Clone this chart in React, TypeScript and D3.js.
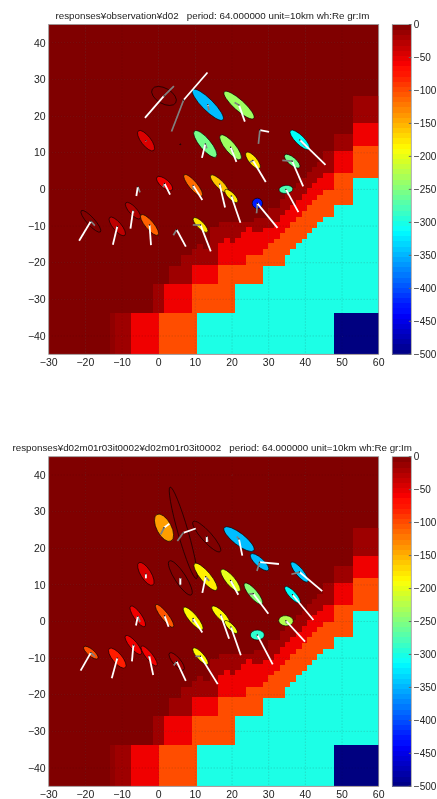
import React, { useEffect, useRef } from "react";
import * as d3 from "d3";

// colour stops of the jet colormap, by depth value
const jetDepths = [-500, -437.5, -312.5, -250, -187.5, -62.5, 0];
const jetColors = ["#000080", "#0000ff", "#00ffff", "#80ff80", "#ffff00", "#ff0000", "#800000"];

const xTicks = [-30, -20, -10, 0, 10, 20, 30, 40, 50, 60];
const yTicks = [-40, -30, -20, -10, 0, 10, 20, 30, 40];
const barTicks = [0, -50, -100, -150, -200, -250, -300, -350, -400, -450, -500];

// mesh drawn as nested step areas: depth of layer, x where a step starts, top y of that step
const layer8 = { depth: -8, xs: [-13.3], tops: [-33.8] };
const layer15 = {
  depth: -15,
  xs: [-11.9, -1.45, 2.9, 6.1, 9, 10.4, 12.2, 14, 16.5, 26, 29.9, 33.1, 34.5, 35.8, 37.5, 39, 40.4, 41.9, 43.3, 44.9, 47.8, 52.9],
  tops: [-33.8, -25.9, -20.9, -17.9, -16.3, -14.9, -16.3, -10.2, -8.8, -7.9, -5, -2.7, -1.1, 0.3, 1.65, 3, 4.8, 6.2, 7.5, 10.5, 15.1, 25.5],
};
const layer50 = {
  depth: -55,
  xs: [-7.5, 1.36, 9, 16.3, 17.9, 19.4, 20.8, 22.4, 23.8, 25.4, 28.4, 31.5, 33.1, 34.5, 35.8, 37.5, 39, 40.4, 41.9, 43.3, 44.9, 47.8, 52.9],
  tops: [-33.8, -25.9, -20.6, -14.7, -13.3, -14.7, -13.3, -11.7, -10.2, -11.7, -10.6, -8.8, -7, -5.6, -4.3, -2.9, -1.26, 0.3, 1.65, 3, 4.56, 10.5, 18],
};
const layer100 = {
  depth: -100,
  xs: [0, 9, 16.3, 23.8, 28.4, 29.9, 31.5, 33.1, 34.5, 35.8, 37.5, 39, 40.4, 41.9, 43.3, 44.9, 47.8, 52.9],
  tops: [-33.8, -25.9, -20.6, -17.9, -16.4, -14.7, -13.4, -11.8, -10.4, -8.8, -7.4, -6, -4.3, -2.9, -1.5, -0.2, 4.56, 11.9],
};
const layer300 = {
  depth: -300,
  xs: [10.4, 20.8, 28.4, 34.5, 35.8, 37.5, 39, 40.4, 41.9, 43.3, 44.9, 47.8, 52.9],
  tops: [-33.8, -25.9, -20.9, -17.9, -16.4, -14.7, -13.4, -11.8, -10.4, -9, -7.4, -4.3, 3],
};
const layer500 = { depth: -500, xs: [47.8], tops: [-33.8] };
const meshLayers = [layer8, layer15, layer50, layer100, layer300, layer500];

// x, y, semi axes a and b, angle, depth, real arrow dx dy, imaginary arrow dx dy
type Station = number[];
const observed: Station[] = [
  [1.45, 25.5, 3.7, 2.1, -30, 0, -5.2, -6, 2.7, 2.7],
  [6.8, 24.4, 0.1, 0.1, 0, 0, 6.5, 7.5, -3.3, -8.6],
  [13.4, 23.1, 5.8, 1.55, -45, -345, 0.1, -0.3, 0.3, -1.5],
  [21.9, 23, 5.4, 1.45, -42, -235, 1.6, -4.5, -1.2, 0.7],
  [27.6, 16.2, 0.1, 0.1, 0, 0, 2.5, -0.5, -0.4, -3.8],
  [38.5, 13.5, 3.6, 1.2, -45, -310, 7, -6.8, 1.5, -1.8],
  [-3.45, 13.3, 3.4, 1.3, -52, -45, 0.1, -0.1, 0, 0],
  [5.9, 12.3, 0.15, 0.1, 0, -60, 0, 0, 0, 0],
  [12.7, 12.4, 4.6, 1.5, -50, -255, -0.9, -3.8, 0.4, -1.2],
  [19.6, 11.5, 4.3, 1.4, -50, -235, 1.6, -4, 0.8, -1.4],
  [25.7, 7.9, 2.85, 1.1, -50, -175, 3.5, -5.9, -0.8, -0.5],
  [36.4, 7.7, 2.65, 1.05, -40, -255, 3, -6.9, -2.7, 0.2],
  [34.7, 0, 1.9, 1.1, 5, -275, 3.4, -6.2, 0.6, -1.5],
  [26.9, -3.8, 1.4, 1.4, 0, -425, 5.5, -6.7, -0.2, -2.7],
  [16.6, 1.45, 3.4, 1.05, -45, -160, 1.5, -6.4, 0.4, -1],
  [19.8, -1.8, 2.4, 0.9, -45, -175, 2.5, -7.3, 0.5, -1],
  [-5.7, 0.7, 0.1, 0.1, 0, 0, -0.4, -2.5, 0.6, -1.5],
  [1.6, 1.6, 2.7, 1.15, -40, -55, 1.5, -3, -0.4, -1],
  [9.4, 1.1, 3.8, 1.1, -50, -115, 2.5, -4, 0, -1.2],
  [-18.5, -8.7, 3.9, 1.05, -48, 0, -3.2, -5.3, 1.1, -1.2],
  [-11.3, -10.1, 3.2, 1.15, -50, -30, -1.2, -5, 0, -0.6],
  [-7, -5.8, 2.9, 1.05, -48, -22, -0.7, -4.9, 0.2, -0.6],
  [-2.5, -9.7, 3.6, 1.15, -50, -110, 0.4, -5.5, 0.1, -0.6],
  [4.9, -11, 0.1, 0.1, 0, 0, 2.5, -4.6, -0.9, -1.5],
  [11.4, -9.7, 2.7, 0.95, -45, -175, 2.8, -7.2, -2.1, 0],
];
const modelled: Station[] = [
  [1.45, 25.6, 4.1, 2, -62, -140, 1.45, 1.1, -0.9, -1.8],
  [6.7, 24.2, 13, 1.4, -74, 0, 3.4, 1.2, -1.6, -2.2],
  [13.1, 23.2, 5.5, 1.4, -48, 0, 0, -1.5, 0.3, -1.4],
  [21.9, 22.5, 5.1, 1.6, -38, -345, 0.9, -4.5, -0.6, 0.7],
  [27.5, 16.2, 3.25, 1.15, -42, -345, 5.3, -0.5, -0.7, -2.4],
  [38.4, 13.5, 3.5, 1.05, -50, -340, 6.2, -5.2, -2.2, -0.6],
  [-3.5, 13, 3.6, 1.4, -58, -45, 0, -1.2, 0, -1.2],
  [5.9, 11.9, 5.5, 1.5, -57, 0, 0, -1.8, 0, -2],
  [12.8, 12.2, 4.7, 1.4, -50, -180, -0.9, -4.4, 1, -1.1],
  [19.6, 11.2, 3.9, 1.25, -50, -200, 2.1, -3.9, 0.7, -1],
  [25.8, 7.6, 3.7, 1.15, -50, -245, 4.1, -5.5, -1.1, -0.1],
  [36.5, 7.3, 3, 0.95, -47, -310, 5.7, -6.9, 0.8, -1],
  [34.7, 0.2, 2, 1.4, -5, -225, 5.2, -5.7, 0.2, -0.8],
  [26.9, -3.7, 1.9, 1.35, 0, -290, 4.2, -8, 0, -0.6],
  [16.9, 1.8, 3.3, 1.05, -45, -185, 2.3, -6.5, 0.5, -1],
  [19.7, -1.5, 2.4, 0.8, -45, -195, 2.7, -7.7, 0.4, -1],
  [-5.7, 1.4, 3.4, 1.05, -55, -55, -0.5, -2.5, 0.6, -1.5],
  [1.6, 1.55, 3.9, 1, -52, -105, 1.1, -3, 0.3, -1.2],
  [9.4, 0.8, 4, 1.15, -50, -185, 2.5, -3.8, 0, -1],
  [-18.5, -8.5, 2.5, 0.9, -40, -100, -2.8, -4.9, 1.1, -1.1],
  [-11.3, -10, 3.4, 1.3, -50, -75, -1.5, -5.5, 0, -0.6],
  [-6.9, -6.4, 3.3, 1.05, -50, -55, -0.4, -4.5, 0.2, -0.6],
  [-2.6, -9.4, 3.4, 0.95, -52, -55, 1.1, -5.2, 0.1, -0.6],
  [4.9, -10.9, 3, 1.05, -50, -15, 2.5, -5.3, -0.8, -1.1],
  [11.4, -9.5, 3, 0.95, -48, -185, 4.7, -7.6, -1.4, 0],
];

const titleTop = "responses\u00a5observation\u00a5d02   period: 64.000000 unit=10km wh:Re gr:Im";
const titleBottom = "responses\u00a5d02m01r03it0002\u00a5d02m01r03it0002   period: 64.000000 unit=10km wh:Re gr:Im";

const jet = d3.scaleLinear<string>().domain(jetDepths).range(jetColors).clamp(true);
const label = (d: number) => String(d).replace("-", "\u2212");
const font = "'Liberation Sans', Arial, sans-serif";

function drawPanel(root: any, top: number, bottom: number, title: string, titleX: number, stations: Station[]) {
  const left = 48.7;
  const right = 378.7;
  const x = d3.scaleLinear().domain([-30, 60]).range([left, right]);
  const y = d3.scaleLinear().domain([-45, 45]).range([bottom, top]);
  const g = root.append("g").attr("font-family", font).attr("font-size", 10.5).attr("fill", "#222");

  g.append("rect")
    .attr("x", left).attr("y", top)
    .attr("width", right - left).attr("height", bottom - top)
    .attr("fill", jet(0));

  const area = d3.area<number>()
    .curve(d3.curveStepAfter)
    .x((d: number) => x(d))
    .y0(y(-45));
  meshLayers.forEach((layer) => {
    const xs = [...layer.xs, 60];
    const tops = [...layer.tops, layer.tops[layer.tops.length - 1]];
    g.append("path")
      .attr("d", area.y1((_d: number, i: number) => y(tops[i]))(xs))
      .attr("fill", jet(layer.depth))
      .attr("shape-rendering", "crispEdges");
  });

  // dotted grid over the mesh
  const grid = g.append("g").attr("stroke", "#444").attr("stroke-width", 0.6).attr("stroke-dasharray", "1,2").attr("opacity", 0.45);
  xTicks.slice(1, -1).forEach((t) => {
    grid.append("line").attr("x1", x(t)).attr("x2", x(t)).attr("y1", top).attr("y2", bottom);
  });
  yTicks.forEach((t) => {
    grid.append("line").attr("x1", left).attr("x2", right).attr("y1", y(t)).attr("y2", y(t));
  });

  const marks = g.append("g");
  stations.forEach(([sx, sy, a, b, angle, depth]) => {
    marks.append("ellipse")
      .attr("cx", 0).attr("cy", 0)
      .attr("rx", x(a) - x(0))
      .attr("ry", x(b) - x(0))
      .attr("transform", `translate(${x(sx)},${y(sy)}) rotate(${-angle})`)
      .attr("fill", jet(depth))
      .attr("stroke", "#000")
      .attr("stroke-width", 0.6);
  });
  stations.forEach(([sx, sy, , , , , reX, reY, imX, imY]) => {
    marks.append("line")
      .attr("x1", x(sx)).attr("y1", y(sy))
      .attr("x2", x(sx + imX)).attr("y2", y(sy + imY))
      .attr("stroke", "#808080").attr("stroke-width", 1.7);
    marks.append("line")
      .attr("x1", x(sx)).attr("y1", y(sy))
      .attr("x2", x(sx + reX)).attr("y2", y(sy + reY))
      .attr("stroke", "#fff").attr("stroke-width", 1.8);
    marks.append("circle").attr("cx", x(sx)).attr("cy", y(sy)).attr("r", 0.7).attr("fill", "#111");
  });

  g.append("rect")
    .attr("x", left).attr("y", top)
    .attr("width", right - left).attr("height", bottom - top)
    .attr("fill", "none").attr("stroke", "#999").attr("stroke-width", 0.8);

  xTicks.forEach((t) => {
    g.append("text").attr("x", x(t)).attr("y", bottom + 12).attr("text-anchor", "middle").text(label(t));
  });
  yTicks.forEach((t) => {
    g.append("text").attr("x", left - 3).attr("y", y(t) + 3.7).attr("text-anchor", "end").text(label(t));
  });
  g.append("text")
    .attr("x", titleX).attr("y", top - 5.5)
    .attr("font-size", 9.8)
    .style("white-space", "pre")
    .text(title);

  // colorbar, 64 flat steps like the figure's colormap
  const barLeft = 392.3;
  const barRight = 411.3;
  const bar = d3.scaleLinear().domain([-500, 0]).range([bottom, top]);
  const stepValue = d3.scaleLinear().domain([0, 64]).range([-500, 0]);
  d3.range(64).forEach((i) => {
    g.append("rect")
      .attr("x", barLeft).attr("width", barRight - barLeft)
      .attr("y", bar(stepValue(i + 1))).attr("height", bar(stepValue(i)) - bar(stepValue(i + 1)) + 0.5)
      .attr("fill", jet(stepValue(i + 0.5)))
      .attr("shape-rendering", "crispEdges");
  });
  g.append("rect")
    .attr("x", barLeft).attr("y", top)
    .attr("width", barRight - barLeft).attr("height", bottom - top)
    .attr("fill", "none").attr("stroke", "#999").attr("stroke-width", 0.8);
  barTicks.forEach((t) => {
    g.append("line").attr("x1", barRight - 2.5).attr("x2", barRight).attr("y1", bar(t)).attr("y2", bar(t)).attr("stroke", "#666");
    g.append("text").attr("x", barRight + 2.5).attr("y", bar(t) + 3.7).attr("font-size", 10).text(label(t));
  });
}

export default function App() {
  const ref = useRef<SVGSVGElement>(null);
  useEffect(() => {
    const svg = d3.select(ref.current);
    svg.selectAll("*").remove();
    // the source figure is a slightly soft raster
    svg.append("defs").append("filter")
      .attr("id", "soft")
      .attr("filterUnits", "userSpaceOnUse")
      .attr("x", 0).attr("y", 0).attr("width", 437).attr("height", 799)
      .append("feGaussianBlur").attr("stdDeviation", 0.4);
    const root = svg.append("g").attr("filter", "url(#soft)");
    drawPanel(root, 24.5, 354.3, titleTop, 55.5, observed);
    drawPanel(root, 456.7, 786.3, titleBottom, 12.5, modelled);
  }, []);
  return (
    <div style={{ position: "absolute", left: 0, top: 0 }}>
      <svg ref={ref} width={437} height={799} style={{ display: "block", background: "#fff" }} />
    </div>
  );
}
